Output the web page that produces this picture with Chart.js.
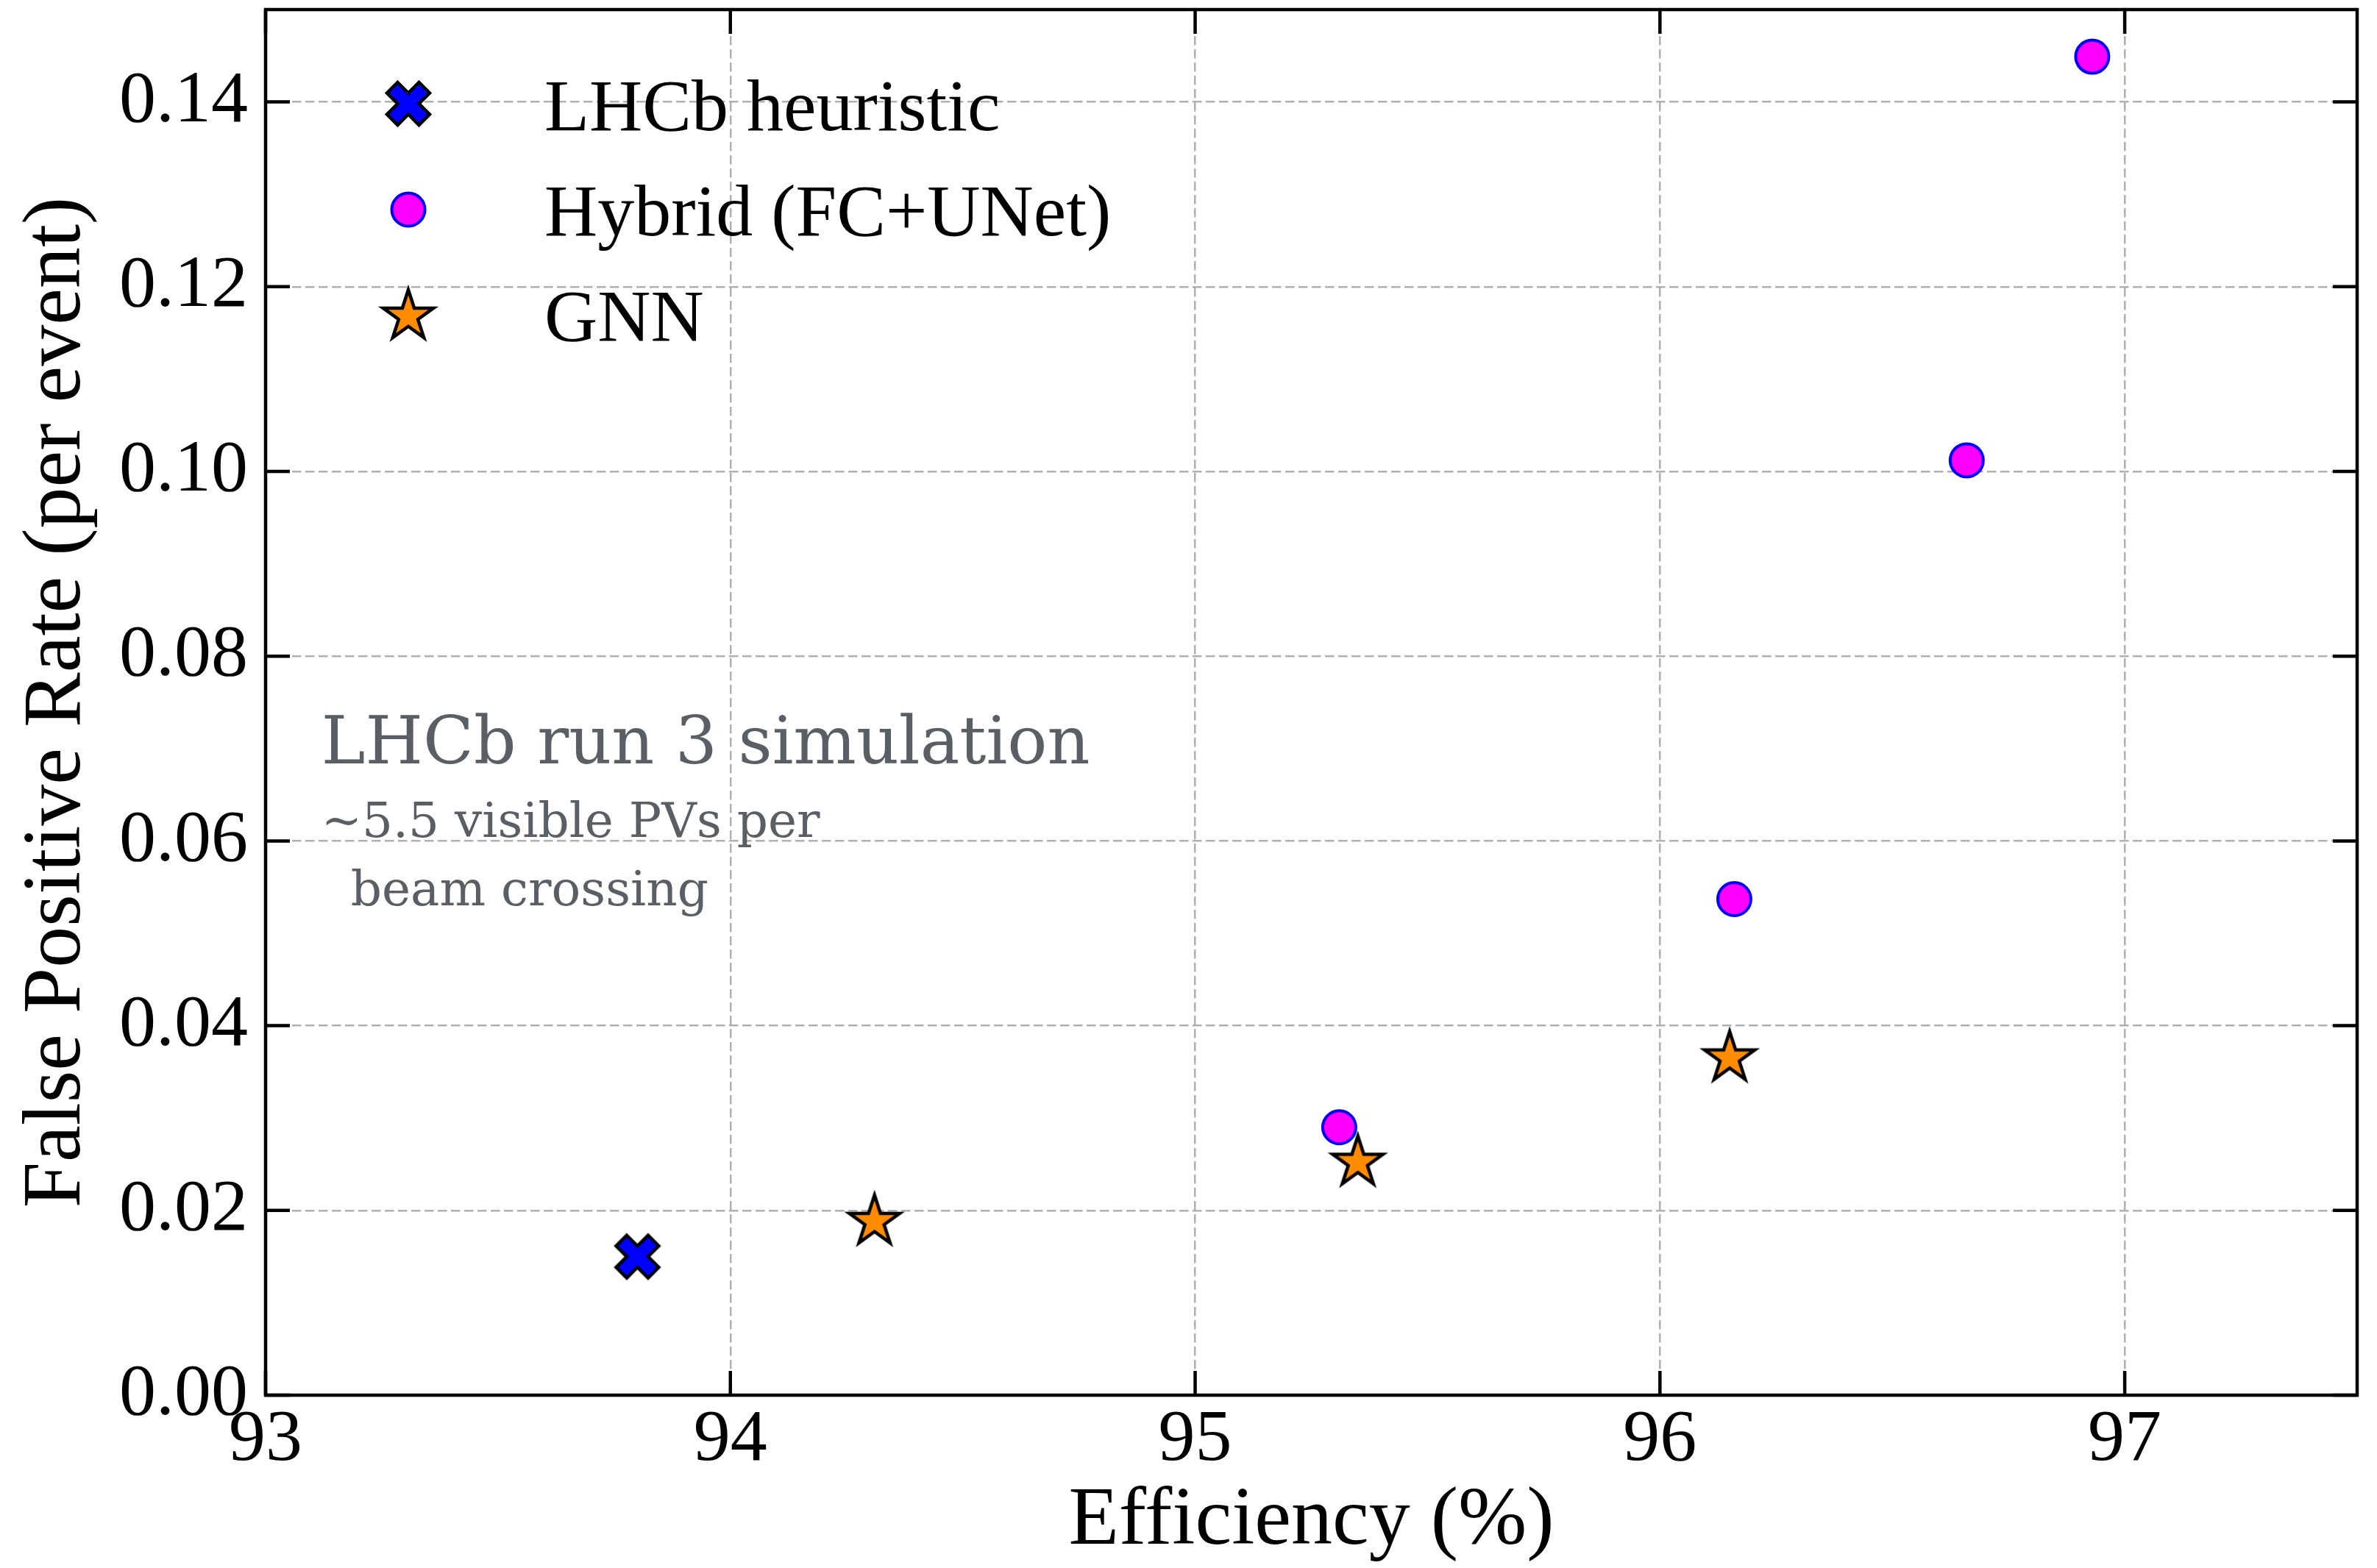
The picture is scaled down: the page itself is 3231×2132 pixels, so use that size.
<!DOCTYPE html>
<html>
<head>
<meta charset="utf-8">
<title>False Positive Rate vs Efficiency</title>
<script src="https://cdn.jsdelivr.net/npm/chart.js@4.4.1/dist/chart.umd.min.js"></script>
<style>
  html, body { margin: 0; padding: 0; background: #fff; }
  #caja { width: 3231px; height: 2132px; }
</style>
</head>
<body>
<div id="caja"><canvas id="grafica" width="3231" height="2132"></canvas></div>
<script>
// valores
const xTicks = [93, 94, 95, 96, 97]
const yTicks = [0, 0.02, 0.04, 0.06, 0.08, 0.10, 0.12, 0.14]

const heuristicoX = [93.80]
const heuristicoY = [0.0150]

const hibridoX = [95.31, 96.16, 96.66, 96.93]
const hibridoY = [0.0290, 0.0537, 0.1012, 0.1449]

const gnnX = [94.31, 95.35, 96.15]
const gnnY = [0.0188, 0.0252, 0.0365]

const etiquetas = ["LHCb heuristic", "Hybrid (FC+UNet)", "GNN"]
const notas = ["LHCb run 3 simulation", "~5.5 visible PVs per", "beam crossing"]

const serif = "'Liberation Serif', 'Times New Roman', serif"
Chart.defaults.font.family = serif
Chart.defaults.color = "#000"

function puntos(xs, ys) {
  return xs.map((x, i) => ({ x: x, y: ys[i] }))
}

// marcador X relleno (como el 'X' de matplotlib)
function marcaX() {
  let c = document.createElement("canvas")
  c.width = 76
  c.height = 76
  let g = c.getContext("2d")
  let s = 14.5
  let pts = [[-1, -2], [0, -1], [1, -2], [2, -1], [1, 0], [2, 1], [1, 2], [0, 1], [-1, 2], [-2, 1], [-1, 0], [-2, -1]]
  g.translate(38, 38)
  g.beginPath()
  pts.forEach((p, i) => {
    if (i === 0) g.moveTo(p[0] * s, p[1] * s)
    else g.lineTo(p[0] * s, p[1] * s)
  })
  g.closePath()
  g.fillStyle = "#0000ff"
  g.fill()
  g.lineWidth = 4.5
  g.lineJoin = "miter"
  g.strokeStyle = "#000"
  g.stroke()
  return c
}

// estrella de 5 puntas
function marcaEstrella() {
  let c = document.createElement("canvas")
  c.width = 104
  c.height = 104
  let g = c.getContext("2d")
  let R = 36
  let r = R * 0.381966
  g.translate(52, 52)
  g.beginPath()
  for (let i = 0; i < 10; i++) {
    let a = -Math.PI / 2 + i * Math.PI / 5
    let rad = i % 2 ? r : R
    if (i === 0) g.moveTo(rad * Math.cos(a), rad * Math.sin(a))
    else g.lineTo(rad * Math.cos(a), rad * Math.sin(a))
  }
  g.closePath()
  g.fillStyle = "#ff8c00"
  g.fill()
  g.lineWidth = 4.5
  g.lineJoin = "miter"
  g.strokeStyle = "#000"
  g.stroke()
  return c
}

const imgX = marcaX()
const imgEstrella = marcaEstrella()

// marco con marcas hacia dentro en los cuatro lados
const marco = {
  id: "marco",
  afterDatasetsDraw(chart) {
    let ctx = chart.ctx
    let a = chart.chartArea
    let sx = chart.scales.x
    let sy = chart.scales.y
    let largo = 33
    ctx.save()
    ctx.strokeStyle = "#000"
    ctx.lineWidth = 4.5
    ctx.beginPath()
    xTicks.forEach(v => {
      let px = sx.getPixelForValue(v)
      ctx.moveTo(px, a.bottom)
      ctx.lineTo(px, a.bottom - largo)
      ctx.moveTo(px, a.top)
      ctx.lineTo(px, a.top + largo)
    })
    yTicks.forEach(v => {
      let py = sy.getPixelForValue(v)
      ctx.moveTo(a.left, py)
      ctx.lineTo(a.left + largo, py)
      ctx.moveTo(a.right, py)
      ctx.lineTo(a.right - largo, py)
    })
    ctx.stroke()
    ctx.lineJoin = "miter"
    ctx.strokeRect(a.left, a.top, a.right - a.left, a.bottom - a.top)
    ctx.restore()
  }
}

// leyenda y texto de la simulacion
const leyenda = {
  id: "leyenda",
  afterDraw(chart) {
    let ctx = chart.ctx
    let mx = 555
    let filas = [141, 285, 430]
    let bases = [177, 320, 463]
    ctx.save()
    ctx.drawImage(imgX, mx - imgX.width / 2, filas[0] - imgX.height / 2)
    ctx.beginPath()
    ctx.arc(mx, filas[1], 22.5, 0, Math.PI * 2)
    ctx.fillStyle = "#ff00ff"
    ctx.fill()
    ctx.lineWidth = 4
    ctx.strokeStyle = "#0000ff"
    ctx.stroke()
    ctx.drawImage(imgEstrella, mx - imgEstrella.width / 2, filas[2] - imgEstrella.height / 2)

    ctx.fillStyle = "#000"
    ctx.font = "100px " + serif
    ctx.textAlign = "left"
    ctx.textBaseline = "alphabetic"
    for (let i = 0; i < etiquetas.length; i++) {
      ctx.fillText(etiquetas[i], 740, bases[i])
    }

    // anotacion
    let sx = chart.scales.x
    let sy = chart.scales.y
    let x0 = sx.getPixelForValue(93.12)
    let y0 = sy.getPixelForValue(0.0684)
    ctx.fillStyle = "#5a5f66"
    ctx.font = "90px 'DejaVu Serif', serif"
    ctx.fillText(notas[0], x0, y0)
    ctx.font = "66px 'DejaVu Serif', serif"
    ctx.fillText(notas[1], x0, y0 + 100)
    ctx.fillText(notas[2], x0 + 40, y0 + 193)
    ctx.restore()
  }
}

const ctx = document.getElementById("grafica").getContext("2d")
new Chart(ctx, {
  type: "scatter",
  data: {
    datasets: [
      {
        label: etiquetas[0],
        data: puntos(heuristicoX, heuristicoY),
        pointStyle: imgX,
        pointRadius: 30,
        order: 2
      },
      {
        label: etiquetas[1],
        data: puntos(hibridoX, hibridoY),
        pointStyle: "circle",
        pointRadius: 22.5,
        borderWidth: 4,
        backgroundColor: "#ff00ff",
        borderColor: "#0000ff",
        order: 1
      },
      {
        label: etiquetas[2],
        data: puntos(gnnX, gnnY),
        pointStyle: imgEstrella,
        pointRadius: 40,
        order: 0
      }
    ]
  },
  options: {
    responsive: false,
    devicePixelRatio: 1,
    animation: false,
    events: [],
    layout: { autoPadding: false, padding: { top: 13, right: 27, left: 0, bottom: 0 } },
    plugins: {
      legend: { display: false },
      tooltip: { enabled: false }
    },
    scales: {
      x: {
        type: "linear",
        min: 93,
        max: 97.5,
        afterBuildTicks: s => { s.ticks = xTicks.map(v => ({ value: v })) },
        afterFit: s => {
          s.height = 235
          s.paddingLeft = 0
          s.paddingRight = 0
        },
        ticks: {
          padding: 2,
          font: { size: 100 },
          color: "#000",
          maxRotation: 0,
          callback: v => String(v)
        },
        grid: { color: "#b0b0b0", lineWidth: 2.5, drawTicks: false },
        border: { display: false, dash: [12.5, 5.5] },
        title: {
          display: true,
          text: "Efficiency (%)",
          font: { size: 112, lineHeight: 1 },
          color: "#000",
          padding: { top: 0, bottom: 6 }
        }
      },
      y: {
        type: "linear",
        min: 0,
        max: 0.15,
        afterBuildTicks: s => { s.ticks = yTicks.map(v => ({ value: v })) },
        afterFit: s => {
          s.width = 361
          s.paddingTop = 0
          s.paddingBottom = 0
        },
        ticks: {
          padding: 24,
          font: { size: 100 },
          color: "#000",
          callback: v => v.toFixed(2)
        },
        grid: { color: "#b0b0b0", lineWidth: 2.5, drawTicks: false },
        border: { display: false, dash: [12.5, 5.5] },
        title: {
          display: true,
          text: "False Positive Rate (per event)",
          font: { size: 112, lineHeight: 1 },
          color: "#000",
          padding: { top: 23, bottom: 0 }
        }
      }
    }
  },
  plugins: [marco, leyenda]
})
</script>
</body>
</html>
